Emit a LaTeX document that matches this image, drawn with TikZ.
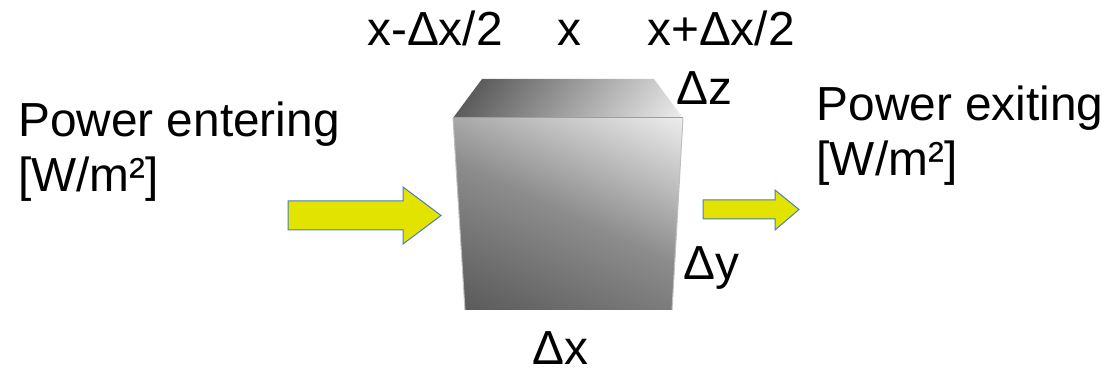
\documentclass[tikz,border=0pt]{standalone}
\usepackage{fontspec}
\setmainfont{Liberation Sans}
\usepackage{xcolor}
\usepackage{tikz}
\definecolor{arrowyellow}{HTML}{E3E300}
\definecolor{arrowblue}{HTML}{4A7EBB}
\begin{document}
\begin{tikzpicture}[x=1pt,y=-1pt,lbl/.style={anchor=base west,inner sep=0pt,font=\fontsize{47.8}{55}\selectfont},flow/.style={draw=arrowblue,fill=arrowyellow,line width=1pt,line join=miter},edge/.style={draw=black!38,line width=1pt}]
\useasboundingbox (0,0) rectangle (1112,374);
% cube
\begin{scope}
\clip (453,118)--(683,118)--(672,310)--(465,310)--cycle;
\begin{scope}[transform canvas={rotate around={-25:(568,214)}}]
\shade[top color=black!6,bottom color=black!66,middle color=black!45] (358,74) rectangle (778,354);
\end{scope}
\end{scope}
\begin{scope}
\clip (482,79)--(654,79)--(683,118)--(453,118)--cycle;
\begin{scope}[transform canvas={rotate around={-35:(568,98)}}]
\shade[left color=black!74,right color=black!4] (453,-52) rectangle (683,248);
\end{scope}
\end{scope}
\draw[edge] (453,118)--(683,118);
\draw[edge,black!25] (683,118)--(672,310);
\draw[edge,black!25] (453,118)--(465,310);
% arrows
\draw[flow] (288,201)--(403,201)--(403,187)--(441,215.5)--(403,244)--(403,230)--(288,230)--cycle;
\draw[flow] (703,200)--(775,200)--(775,190)--(799,209.5)--(775,230)--(775,219)--(703,219)--cycle;
% labels
\node[lbl] (left) at (367,46) {x-Δx/2};
\node[lbl] (mid) at (557,46) {x};
\node[lbl] (right) at (647,46) {x+Δx/2};
\node[lbl] (dz) at (676,105) {Δz};
\node[lbl] (dy) at (683,280) {Δy};
\node[lbl] (dx) at (532,364) {Δx};
\node[lbl] (in1) at (18,137) {Power entering};
\node[lbl] (in2) at (18,192) {[W/m²]};
\node[lbl] (out1) at (816.5,121) {Power exiting};
\node[lbl] (out2) at (816.5,176) {[W/m²]};
\end{tikzpicture}
\end{document}
